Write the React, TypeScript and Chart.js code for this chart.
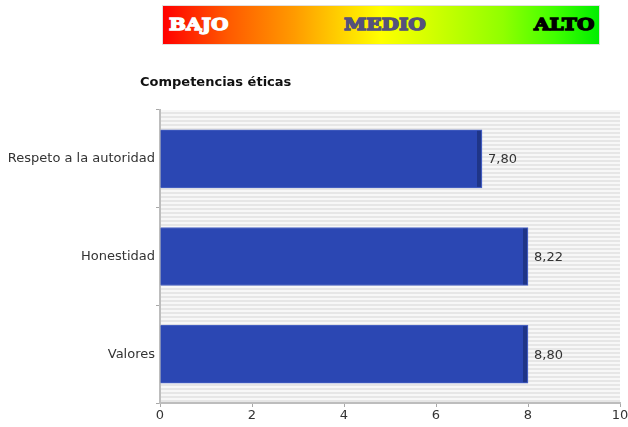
import { useEffect, useRef } from "react";
import { Chart, registerables } from "chart.js";
Chart.register(...registerables);

const categories = ["Respeto a la autoridad", "Honestidad", "Valores"];
const barValues = [7, 8, 8];
const valueLabels = ["7,80", "8,22", "8,80"];
const xMin = 0;
const xMax = 10;
const xStep = 2;
const chartTitle = "Competencias éticas";
const levelLabels = ["BAJO", "MEDIO", "ALTO"];

const FONT = "'DejaVu Sans', Verdana, sans-serif";

export default function App() {
  const ref = useRef<HTMLCanvasElement | null>(null);

  useEffect(() => {
    const canvas = ref.current;
    if (!canvas) return;

    const pat = document.createElement("canvas");
    pat.width = 4;
    pat.height = 4;
    const pctx = pat.getContext("2d")!;
    pctx.fillStyle = "#f7f7f7";
    pctx.fillRect(0, 0, 4, 4);
    pctx.fillStyle = "#e6e6e6";
    pctx.fillRect(0, 0, 4, 2);

    const stripes = {
      id: "stripes",
      beforeDraw(chart: any) {
        const { ctx, chartArea } = chart;
        ctx.save();
        ctx.fillStyle = ctx.createPattern(pat, "repeat");
        ctx.fillRect(chartArea.left, chartArea.top, chartArea.right - chartArea.left, chartArea.bottom - chartArea.top);
        ctx.restore();
        ctx.save();
        ctx.font = "bold 13px " + FONT;
        ctx.fillStyle = "#111";
        ctx.textBaseline = "middle";
        ctx.textAlign = "left";
        ctx.fillText(chartTitle, 140, 83);
        ctx.restore();
      },
    };

    const barDecor = {
      id: "barDecor",
      afterDatasetsDraw(chart: any) {
        const { ctx } = chart;
        const meta = chart.getDatasetMeta(0);
        ctx.save();
        meta.data.forEach((bar: any, i: number) => {
          const h = bar.height;
          ctx.fillStyle = "#1f3587";
          ctx.fillRect(bar.x - 5, bar.y - h / 2 + 1, 4, h - 2);
          ctx.font = "13px " + FONT;
          ctx.fillStyle = "#333";
          ctx.textBaseline = "middle";
          ctx.textAlign = "left";
          ctx.fillText(valueLabels[i], bar.x + 6, bar.y + 1);
        });
        ctx.restore();
      },
    };

    const chart = new Chart(canvas, {
      type: "bar",
      data: {
        labels: categories,
        datasets: [
          {
            data: barValues,
            backgroundColor: "#2b47b3",
            borderColor: "#4d66c4",
            borderWidth: 1,
            barThickness: 58,
          },
        ],
      },
      options: {
        indexAxis: "y",
        animation: false,
        responsive: false,
        layout: { padding: { top: 110, right: 8, bottom: 0, left: 0 } },
        plugins: {
          legend: { display: false },
          tooltip: { enabled: false },
          title: { display: false },
        },
        scales: {
          x: {
            min: xMin,
            max: xMax,
            ticks: {
              stepSize: xStep,
              color: "#333",
              font: { family: FONT, size: 13 },
              padding: 1,
              maxRotation: 0,
            },
            grid: { drawOnChartArea: false, drawTicks: true, tickLength: 4, color: "#a8a8a8" },
            border: { color: "#bdbdbd", width: 2 },
            afterFit(s: any) {
              s.height = 24;
              s.paddingLeft = 0;
              s.paddingRight = 0;
            },
          },
          y: {
            ticks: {
              color: "#333",
              font: { family: FONT, size: 13 },
              padding: 1,
            },
            grid: { drawOnChartArea: false, drawTicks: true, tickLength: 4, color: "#a8a8a8", offset: true },
            border: { color: "#bdbdbd", width: 2 },
            afterFit(s: any) {
              s.width = 160;
              s.paddingTop = 0;
              s.paddingBottom = 0;
            },
          },
        },
      },
      plugins: [stripes, barDecor],
    } as any);

    return () => chart.destroy();
  }, []);

  const levelStyle = (color: string, stroke: string, shadow: string) => ({
    position: "absolute" as const,
    top: 3,
    fontFamily: "'DejaVu Serif', serif",
    fontWeight: 900,
    fontSize: 17,
    lineHeight: "30px",
    color,
    WebkitTextStroke: `1.3px ${stroke}`,
    textShadow: shadow,
    transform: "scaleX(1.18)",
    transformOrigin: "left center",
    letterSpacing: 0,
  });

  return (
    <div style={{ position: "fixed", left: 0, top: 0, width: 628, height: 427, background: "#fff", overflow: "hidden" }}>
      <div
        style={{
          position: "absolute",
          left: 163,
          top: 6,
          width: 436,
          height: 38,
          background:
            "linear-gradient(to right, #ff0000 0%, #ff5a00 15%, #ff9a00 30%, #ffd800 42%, #ffff00 50%, #d0ff00 62%, #90ff00 78%, #40ff00 90%, #00ee00 100%)",
          boxShadow: "0 0 0 1px #e0e0e0",
        }}
      >
        <span style={{ ...levelStyle("#ffffff", "#ffffff", "0 0 1px #7a1a00, 0 0 1px #7a1a00"), left: 6 }}>{levelLabels[0]}</span>
        <span style={{ ...levelStyle("#55517c", "#55517c", "0 0 1px #3a3660"), left: 181 }}>{levelLabels[1]}</span>
        <span style={{ ...levelStyle("#000000", "#000000", "none"), left: 371 }}>{levelLabels[2]}</span>
      </div>
      <canvas ref={ref} width={628} height={427} style={{ position: "absolute", left: 0, top: 0 }} />
    </div>
  );
}
